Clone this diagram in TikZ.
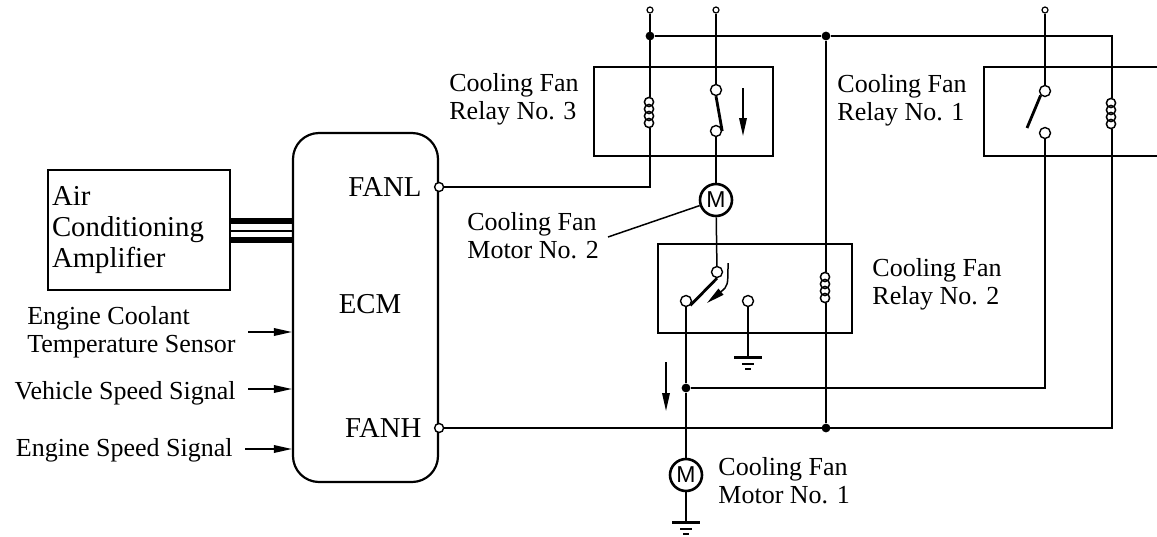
\documentclass[tikz,border=0pt]{standalone}
\usepackage{fontspec}
\setmainfont{Liberation Serif}
\newfontfamily\motorfont{Liberation Sans}
\newcommand{\ecmfont}{\fontsize{14.4}{15.5}\selectfont}
\usetikzlibrary{arrows.meta,positioning}

\begin{document}
\begin{tikzpicture}[x=0.5pt,y=-0.5pt,
    wire/.style={line width=0.75pt},
    relaybox/.style={draw,line width=1.3pt,minimum height=44.5pt},
    contact/.style={circle,draw,fill=white,line width=0.7pt,inner sep=0pt,minimum size=5.5pt},
    term/.style={circle,draw,fill=white,line width=0.6pt,inner sep=0pt,minimum size=3pt},
    port/.style={circle,draw,fill=white,line width=0.7pt,inner sep=0pt,minimum size=4.5pt},
    dot/.style={circle,fill,inner sep=0pt,minimum size=4.4pt},
    motor/.style={circle,draw,line width=1.3pt,inner sep=0pt,minimum size=16pt,font=\motorfont\fontsize{11.5}{11.5}\selectfont},
    note/.style={align=left,inner sep=0pt,font=\fontsize{13}{14}\selectfont},
    blade/.style={line width=1.4pt},
    flow/.style={wire,-{Triangle[length=9pt,width=3.8pt]}},
    winding/.pic={
        \foreach \k in {0,1,2,3}
            \draw[line width=0.75pt] (-1,5+7*\k) circle[radius=2.3pt];
    },
    gnd/.pic={
        \draw[line width=1.5pt] (-14,0) -- (14,0);
        \draw[line width=0.75pt] (-6,7) -- (6,7);
        \draw[line width=0.75pt] (-3,12) -- (3,12);
    },
    ]
    \useasboundingbox (0,0) rectangle (1157,536);

    % ECM and amplifier
    \node[draw,line width=1.1pt,rounded corners=13pt,minimum width=72.5pt,minimum height=174.5pt] (ecm) at (365.5,307.5) {};
    \node[font=\ecmfont] (ecmtxt) at (370,304) {ECM};
    \node[port] (fanl) at (ecm.east |- 0,187) {};
    \node[port] (fanh) at (ecm.east |- 0,428) {};
    \node[font=\ecmfont,inner sep=0pt,left=6pt of fanl] (fanltxt) {FANL};
    \node[font=\ecmfont,inner sep=0pt,left=6pt of fanh] (fanhtxt) {FANH};
    \node[draw,line width=1.1pt,minimum width=91pt,minimum height=60pt,text width=87pt,inner xsep=2pt,align=left,font=\ecmfont] (aca) at (139,230) {Air\\Conditioning\\Amplifier};
    \foreach \y/\w in {221/3pt,231/1pt,240/3pt}
        \draw[line width=\w] (aca.east |- 0,\y) -- (ecm.west |- 0,\y);

    % inputs
    \node[note,anchor=east] (ect) at (236,332) {Engine Coolant\\Temperature Sensor};
    \node[note,anchor=east] (vss) at (236,393) {Vehicle Speed Signal};
    \node[note,anchor=east] (ess) at (233,450) {Engine Speed Signal};
    \foreach \n/\y in {ect/332,vss/389,ess/449}
        \draw[flow] (\n.east |- 0,\y) ++(12,0) -- (ecm.west |- 0,\y);

    % relays
    \node[relaybox,minimum width=89.5pt] (r3) at (683.5,111.5) {};
    \node[relaybox,minimum width=97pt] (r2) at (755,288.5) {};
    \node[relaybox,minimum width=93pt] (r1) at (1077,111.5) {};

    \node[term] (t1) at (650,10) {};
    \node[term] (t2) at (716,10) {};
    \node[term] (t3) at (1045,10) {};
    \node[dot] (j1) at (650,36) {};
    \node[dot] (j2) at (826,36) {};
    \node[dot] (j3) at (686,388) {};
    \node[dot] (j4) at (826,428) {};

    \coordinate (c3a) at (650,97);
    \coordinate (c3b) at (650,128);
    \coordinate (c1a) at (1112,98);
    \coordinate (c1b) at (1112,129);
    \coordinate (c2a) at (826,272);
    \coordinate (c2b) at (826,303);
    \pic at (c3a) {winding};
    \pic at (c1a) {winding};
    \pic at (c2a) {winding};

    \node[contact] (s3a) at (716,90) {};
    \node[contact] (s3b) at (716,131) {};
    \node[contact] (s1a) at (1045,91) {};
    \node[contact] (s1b) at (1045,133) {};
    \node[contact] (s2c) at (717,272) {};
    \node[contact] (s2nc) at (686,301) {};
    \node[contact] (s2no) at (748,301) {};

    % motors and grounds
    \node[motor] (m2) at (716,200) {M};
    \node[motor] (m1) at (686,475) {M};
    \coordinate (g2) at (748,357);
    \coordinate (g1) at (686,522);
    \pic at (g2) {gnd};
    \pic at (g1) {gnd};

    % wiring
    \draw[wire] (t1) -- (c3a);
    \draw[wire] (c3b) |- (fanl);
    \draw[wire] (j1) -- (j2) -| (c1a);
    \draw[wire] (c1b) |- (fanh);
    \draw[wire] (j2) -- (c2a);
    \draw[wire] (c2b) -- (j4);
    \draw[wire] (t2) -- (s3a);
    \draw[wire] (s3b) -- (m2);
    \draw[wire] (m2) -- (s2c);
    \draw[wire] (s2no) -- (g2);
    \draw[wire] (s2nc) -- (j3) -- (m1) -- (g1);
    \draw[wire] (j3) -| (s1b);
    \draw[wire] (t3) -- (s1a);

    % switch blades and arrows
    \coordinate (b1) at (1027,128);
    \draw[blade] (s3a.south) -- (s3b.east);
    \draw[blade] (s2c.south) -- (s2nc.south east);
    \draw[blade] (s1a.south west) -- (b1);
    \draw[flow] (743,88) -- (743,136);
    \draw[flow] (666,362) -- (666,411);
    \draw[flow] (728,263) .. controls (728,286) .. (707,303);

    % labels
    \coordinate (m2tip) at (608,237);
    \draw[wire] (m2tip) -- (m2);
    \node[note,anchor=west] (r3txt) at (449,99) {Cooling Fan\\Relay No. 3};
    \node[note,anchor=west] (r1txt) at (837,100) {Cooling Fan\\Relay No. 1};
    \node[note,anchor=west] (m2txt) at (467,236) {Cooling Fan\\Motor No. 2};
    \node[note,anchor=west] (r2txt) at (872,284) {Cooling Fan\\Relay No. 2};
    \node[note,anchor=west] (m1txt) at (718,481) {Cooling Fan\\Motor No. 1};
\end{tikzpicture}
\end{document}
